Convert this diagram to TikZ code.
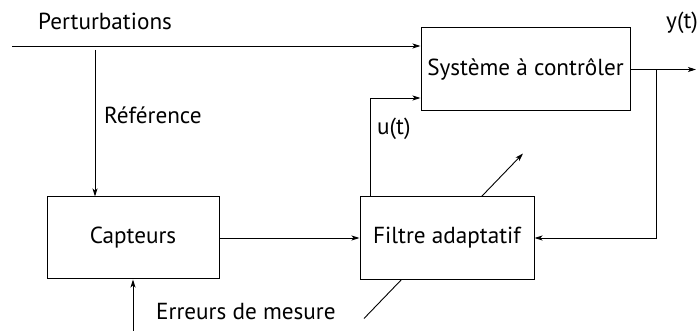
\documentclass[tikz,border=0pt]{standalone}
\usepackage{fontspec}
\setmainfont{PT Sans}
\usetikzlibrary{arrows.meta,positioning,backgrounds}

\begin{document}
\begin{tikzpicture}[x=1pt, y=-1pt, every node/.style={font=\fontsize{23.2}{28}\selectfont},
  box/.style={draw, fill=white, line width=1pt, inner sep=0pt, minimum height=83pt},
  arr/.style={-{Stealth[length=8pt, width=5pt, inset=2pt]}, line width=0.9pt},
  lbl/.style={anchor=base west, inner sep=0pt}]
\useasboundingbox (0,0) rectangle (697,331);
% blocks
\node[box, minimum width=172pt, minimum height=82pt] (capt) at (133,238) {Capteurs};
\node[box, minimum width=174pt, right=140pt of capt] (filt) {Filtre adaptatif};
\node[box, minimum width=209pt] (sys) at (525.5,69.5) {Système à contrôler};
% loose ends
\coordinate (pert) at (12,46);
\coordinate (ref) at (95,50);
\coordinate (err) at (133,331);
\coordinate (fork) at (656,69.5);
\coordinate (out) at (696,69.5);
% labels
\node[lbl] (tpert) at (38,30) {Perturbations};
\node[lbl] (tref) at (104,124) {Référence};
\node[lbl] (tu) at (377,135) {u(t)};
\node[lbl] (ty) at (666,29) {y(t)};
\node[lbl] (terr) at (156,320) {Erreurs de mesure};
% signals
\draw[arr] (pert) -- (pert -| sys.west);
\draw[arr] (ref) -- (ref |- capt.north);
\draw[arr] (err) -- (capt.south);
\draw[arr] (capt) -- (filt);
\draw[arr] ([xshift=11pt]filt.north west) |- ([yshift=-28.5pt]sys.west);
\draw[arr] (sys.east) -- (out);
\draw[arr] (fork) |- (filt.east);
% adaptation arrow, passes under the filter block
\begin{scope}[on background layer]
\draw[arr] ([shift={(-83,80.5)}]filt.center) -- ([shift={(76,-84.5)}]filt.center);
\end{scope}
\end{tikzpicture}
\end{document}
